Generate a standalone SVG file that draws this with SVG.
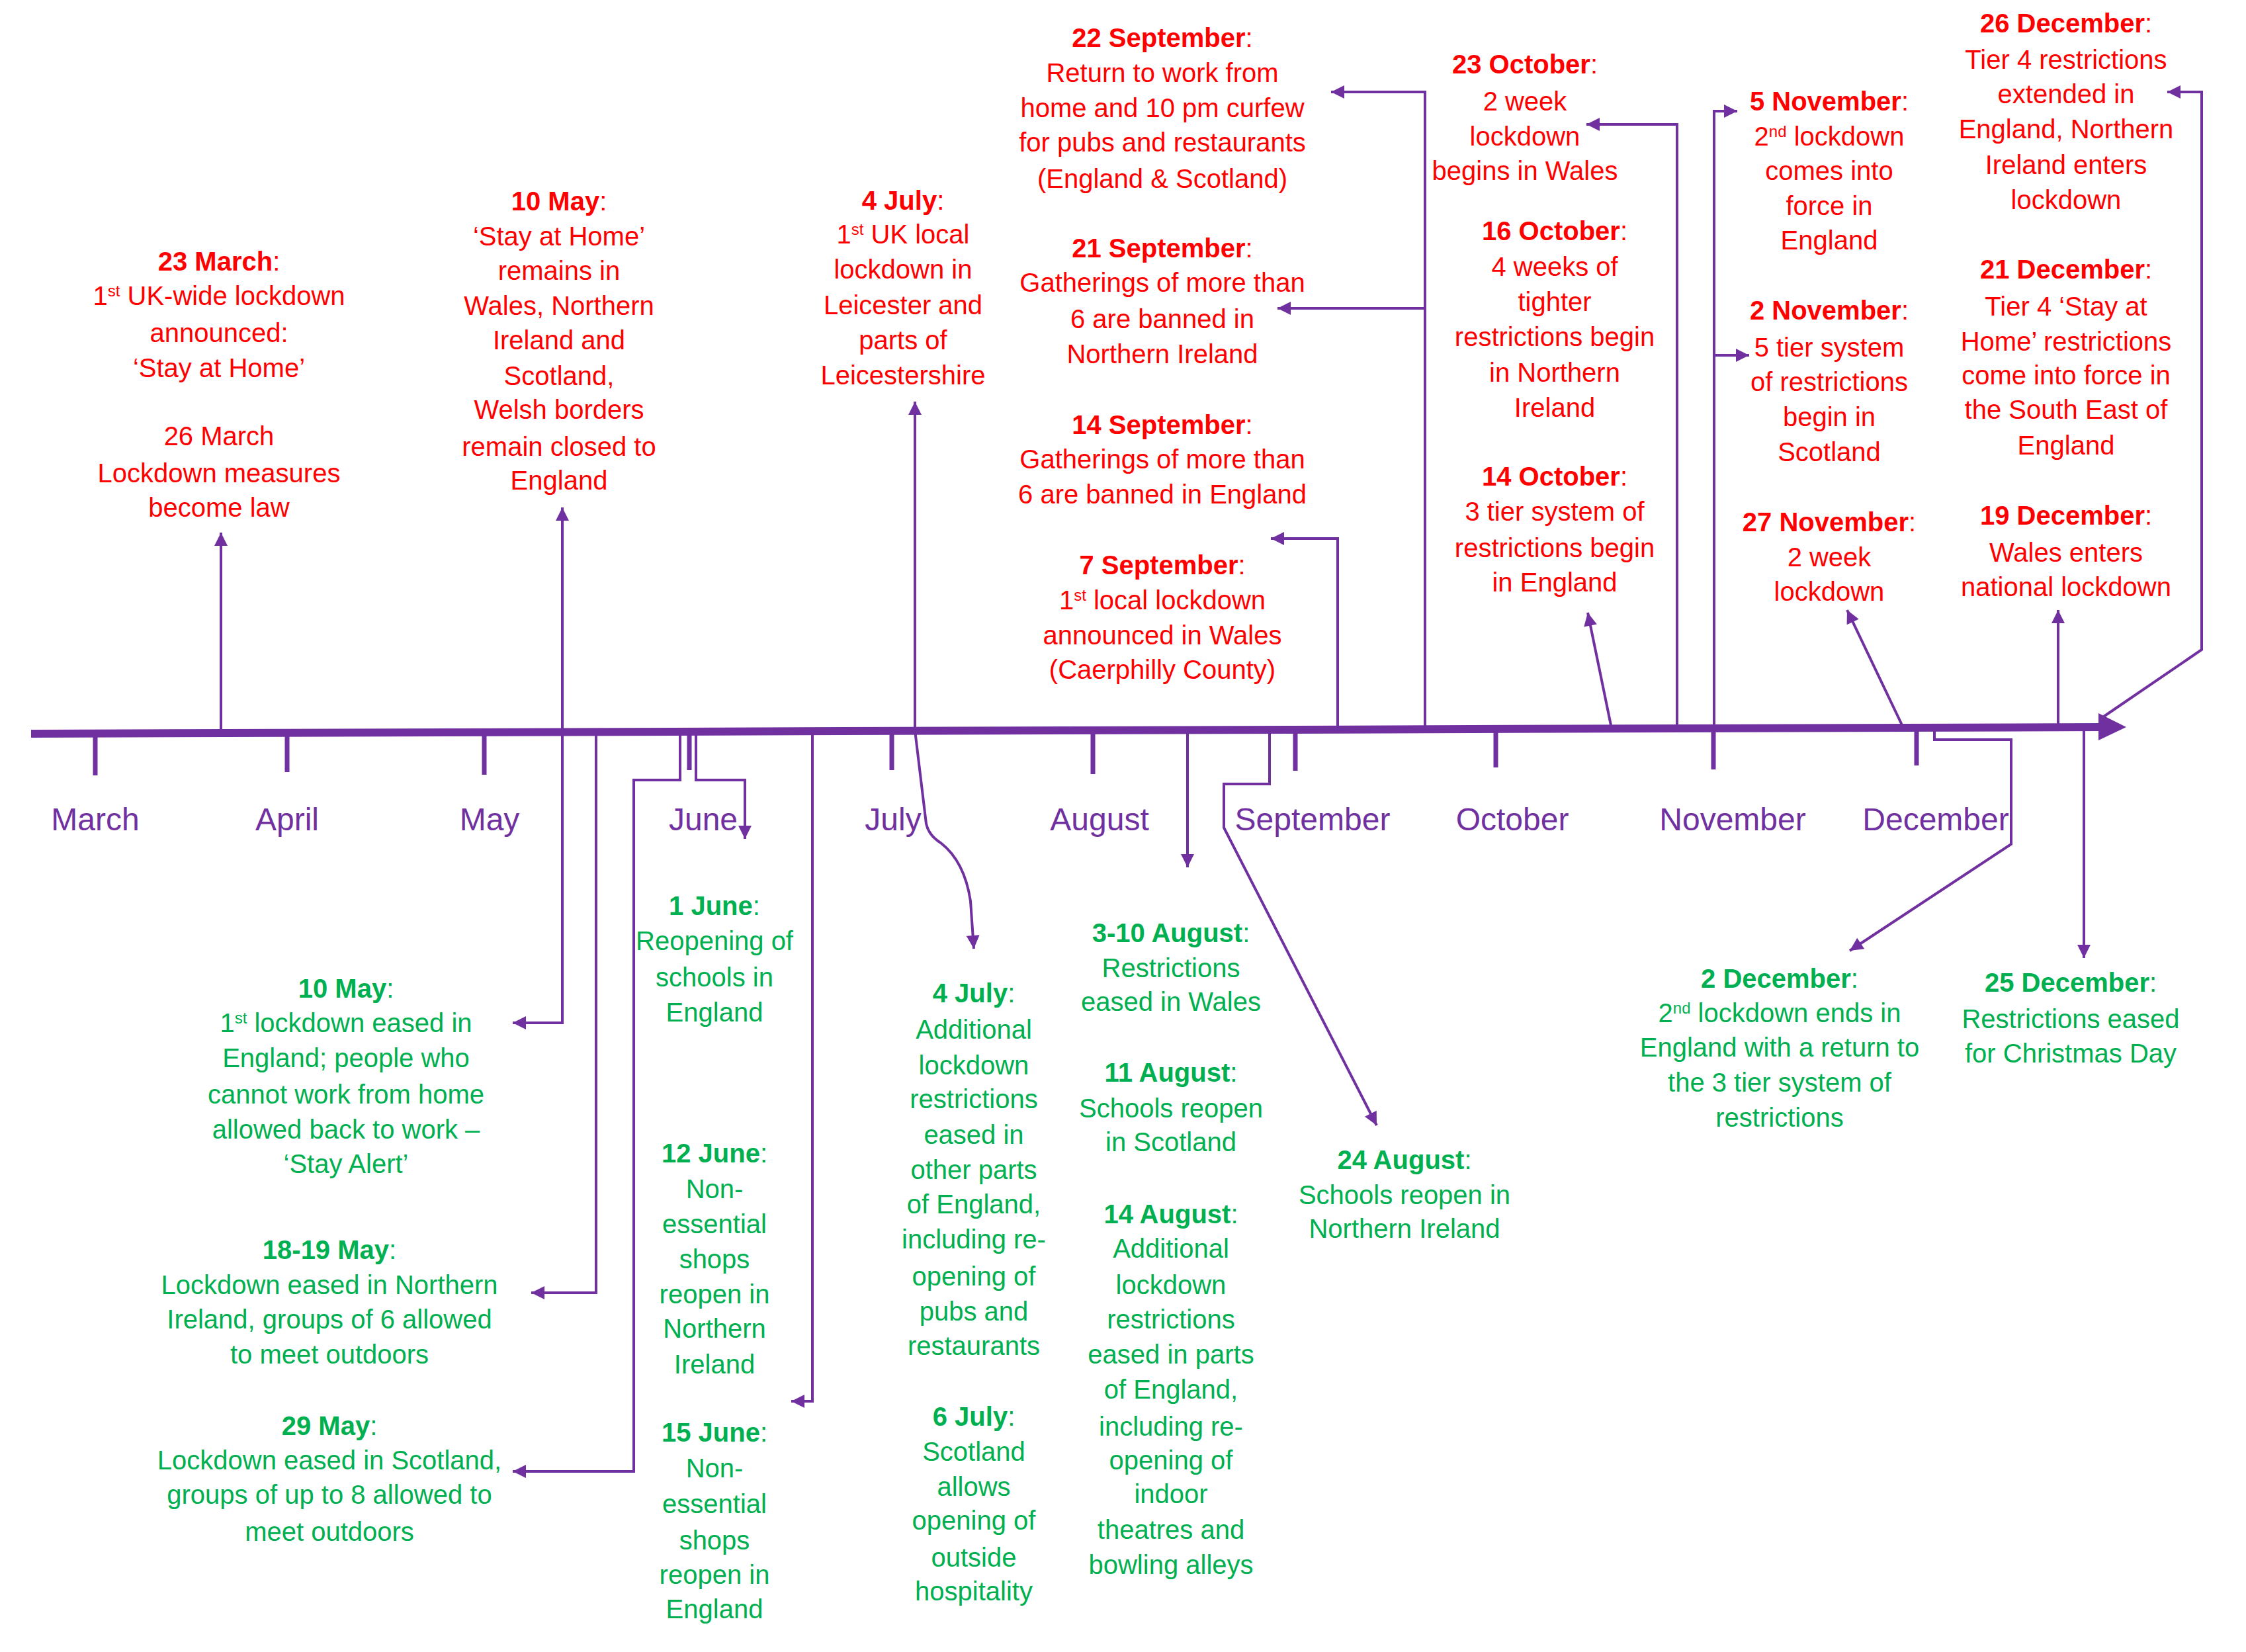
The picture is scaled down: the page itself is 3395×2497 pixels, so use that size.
<svg xmlns="http://www.w3.org/2000/svg" width="3395" height="2497" viewBox="0 0 3395 2497">
<style>
text{font-family:"Liberation Sans",Arial,sans-serif;font-size:40px;text-anchor:middle}
.r{fill:#ff0000}
.g{fill:#00b050}
.m{fill:#7030a0;font-size:48px}
.b{font-weight:bold}
.c{stroke:#7030a0;stroke-width:4;fill:none;marker-end:url(#ah)}
.t{stroke:#7030a0;stroke-width:7;fill:none}
</style>
<defs>
<marker id="ah" viewBox="0 0 10 10" refX="10" refY="5" orient="auto" markerUnits="userSpaceOnUse" markerWidth="24" markerHeight="20"><path d="M0,0 L10,5 L0,10 z" fill="#7030a0"/></marker>
</defs>
<rect width="3395" height="2497" fill="#ffffff"/>
<g id="axis">
<path d="M47,1109 L3178,1099" stroke="#7030a0" stroke-width="12" fill="none"/>
<polygon points="3172,1078 3214,1099 3172,1119" fill="#7030a0"/>
<path class="t" d="M144,1108 V1172 M434,1107 V1167 M732,1106 V1171 M1042,1105 V1164 M1348,1104 V1164 M1652,1103 V1170 M1958,1102 V1165 M2261,1101 V1160 M2590,1100 V1163 M2897,1099 V1157"/>
<text class="m" x="144" y="1255">March</text>
<text class="m" x="434" y="1255">April</text>
<text class="m" x="740" y="1255">May</text>
<text class="m" x="1063" y="1255">June</text>
<text class="m" x="1350" y="1255">July</text>
<text class="m" x="1662" y="1255">August</text>
<text class="m" x="1984" y="1255">September</text>
<text class="m" x="2286" y="1255">October</text>
<text class="m" x="2619" y="1255">November</text>
<text class="m" x="2926" y="1255">December</text>
</g>
<g id="connectors">
<path class="c" d="M334,1107 V805"/>
<path class="c" d="M850,1106 V767"/>
<path class="c" d="M850,1106 V1546 H775"/>
<path class="c" d="M901,1106 V1954 H803"/>
<path class="c" d="M1028,1105 V1179 H958 V2224 H775"/>
<path class="c" d="M1052,1105 V1179 H1126 V1268"/>
<path class="c" d="M1228,1105 V2118 H1196"/>
<path class="c" d="M1383,1104 V607"/>
<path class="c" d="M1383,1104 L1400,1245 Q1404,1263 1422,1274 Q1458,1302 1467,1362 L1472,1434"/>
<path class="c" d="M1795,1103 V1311"/>
<path class="c" d="M1919,1102 V1185 H1850 V1251 L2081,1701"/>
<path class="c" d="M2022,1102 V814 H1921"/>
<path class="c" d="M2154,1102 V139 H2012"/>
<path class="c" d="M2154,466 H1931"/>
<path class="c" d="M2436,1101 L2400,926"/>
<path class="c" d="M2535,1101 V188 H2398"/>
<path class="c" d="M2591,1100 V168 H2626"/>
<path class="c" d="M2591,537 H2644"/>
<path class="c" d="M2877,1100 L2792,922"/>
<path class="c" d="M3111,1099 V922"/>
<path class="c" d="M3180,1083 L3328,982 V139 H3276"/>
<path class="c" d="M2924,1100 V1118 H3040 V1276 L2796,1437"/>
<path class="c" d="M3150,1099 V1448"/>
</g>
<g id="n-23march" class="r">
<text x="331" y="409"><tspan class="b">23 March</tspan>:</text>
<text x="331" y="461">1<tspan font-size="24" baseline-shift="super">st</tspan> UK-wide lockdown</text>
<text x="331" y="517">announced:</text>
<text x="331" y="570">‘Stay at Home’</text>
<text x="331" y="673">26 March</text>
<text x="331" y="729">Lockdown measures</text>
<text x="331" y="781">become law</text>
</g>
<g id="n-10may-red" class="r">
<text x="845" y="318"><tspan class="b">10 May</tspan>:</text>
<text x="845" y="371">‘Stay at Home’</text>
<text x="845" y="423">remains in</text>
<text x="845" y="476">Wales, Northern</text>
<text x="845" y="528">Ireland and</text>
<text x="845" y="582">Scotland,</text>
<text x="845" y="633">Welsh borders</text>
<text x="845" y="689">remain closed to</text>
<text x="845" y="740">England</text>
</g>
<g id="n-4july-red" class="r">
<text x="1365" y="317"><tspan class="b">4 July</tspan>:</text>
<text x="1365" y="368">1<tspan font-size="24" baseline-shift="super">st</tspan> UK local</text>
<text x="1365" y="421">lockdown in</text>
<text x="1365" y="475">Leicester and</text>
<text x="1365" y="528">parts of</text>
<text x="1365" y="581">Leicestershire</text>
</g>
<g id="n-22sep" class="r">
<text x="1757" y="71"><tspan class="b">22 September</tspan>:</text>
<text x="1757" y="124">Return to work from</text>
<text x="1757" y="177">home and 10 pm curfew</text>
<text x="1757" y="229">for pubs and restaurants</text>
<text x="1757" y="284">(England &amp; Scotland)</text>
</g>
<g id="n-21sep" class="r">
<text x="1757" y="389"><tspan class="b">21 September</tspan>:</text>
<text x="1757" y="441">Gatherings of more than</text>
<text x="1757" y="496">6 are banned in</text>
<text x="1757" y="549">Northern Ireland</text>
</g>
<g id="n-14sep" class="r">
<text x="1757" y="656"><tspan class="b">14 September</tspan>:</text>
<text x="1757" y="708">Gatherings of more than</text>
<text x="1757" y="761">6 are banned in England</text>
</g>
<g id="n-7sep" class="r">
<text x="1757" y="868"><tspan class="b">7 September</tspan>:</text>
<text x="1757" y="921">1<tspan font-size="24" baseline-shift="super">st</tspan> local lockdown</text>
<text x="1757" y="974">announced in Wales</text>
<text x="1757" y="1026">(Caerphilly County)</text>
</g>
<g id="n-23oct" class="r">
<text x="2305" y="111"><tspan class="b">23 October</tspan>:</text>
<text x="2305" y="167">2 week</text>
<text x="2305" y="220">lockdown</text>
<text x="2305" y="272">begins in Wales</text>
</g>
<g id="n-16oct" class="r">
<text x="2350" y="363"><tspan class="b">16 October</tspan>:</text>
<text x="2350" y="417">4 weeks of</text>
<text x="2350" y="470">tighter</text>
<text x="2350" y="523">restrictions begin</text>
<text x="2350" y="577">in Northern</text>
<text x="2350" y="630">Ireland</text>
</g>
<g id="n-14oct" class="r">
<text x="2350" y="734"><tspan class="b">14 October</tspan>:</text>
<text x="2350" y="787">3 tier system of</text>
<text x="2350" y="842">restrictions begin</text>
<text x="2350" y="894">in England</text>
</g>
<g id="n-5nov" class="r">
<text x="2765" y="167"><tspan class="b">5 November</tspan>:</text>
<text x="2765" y="220">2<tspan font-size="24" baseline-shift="super">nd</tspan> lockdown</text>
<text x="2765" y="272">comes into</text>
<text x="2765" y="325">force in</text>
<text x="2765" y="377">England</text>
</g>
<g id="n-2nov" class="r">
<text x="2765" y="483"><tspan class="b">2 November</tspan>:</text>
<text x="2765" y="539">5 tier system</text>
<text x="2765" y="591">of restrictions</text>
<text x="2765" y="644">begin in</text>
<text x="2765" y="697">Scotland</text>
</g>
<g id="n-27nov" class="r">
<text x="2765" y="803"><tspan class="b">27 November</tspan>:</text>
<text x="2765" y="856">2 week</text>
<text x="2765" y="908">lockdown</text>
</g>
<g id="n-26dec" class="r">
<text x="3123" y="49"><tspan class="b">26 December</tspan>:</text>
<text x="3123" y="104">Tier 4 restrictions</text>
<text x="3123" y="156">extended in</text>
<text x="3123" y="209">England, Northern</text>
<text x="3123" y="263">Ireland enters</text>
<text x="3123" y="316">lockdown</text>
</g>
<g id="n-21dec" class="r">
<text x="3123" y="421"><tspan class="b">21 December</tspan>:</text>
<text x="3123" y="477">Tier 4 ‘Stay at</text>
<text x="3123" y="530">Home’ restrictions</text>
<text x="3123" y="581">come into force in</text>
<text x="3123" y="633">the South East of</text>
<text x="3123" y="687">England</text>
</g>
<g id="n-19dec" class="r">
<text x="3123" y="793"><tspan class="b">19 December</tspan>:</text>
<text x="3123" y="849">Wales enters</text>
<text x="3123" y="901">national lockdown</text>
</g>
<g id="n-10may-green" class="g">
<text x="523" y="1508"><tspan class="b">10 May</tspan>:</text>
<text x="523" y="1560">1<tspan font-size="24" baseline-shift="super">st</tspan> lockdown eased in</text>
<text x="523" y="1613">England; people who</text>
<text x="523" y="1668">cannot work from home</text>
<text x="523" y="1721">allowed back to work –</text>
<text x="523" y="1773">‘Stay Alert’</text>
</g>
<g id="n-1819may" class="g">
<text x="498" y="1903"><tspan class="b">18-19 May</tspan>:</text>
<text x="498" y="1956">Lockdown eased in Northern</text>
<text x="498" y="2008">Ireland, groups of 6 allowed</text>
<text x="498" y="2061">to meet outdoors</text>
</g>
<g id="n-29may" class="g">
<text x="498" y="2169"><tspan class="b">29 May</tspan>:</text>
<text x="498" y="2221">Lockdown eased in Scotland,</text>
<text x="498" y="2273">groups of up to 8 allowed to</text>
<text x="498" y="2329">meet outdoors</text>
</g>
<g id="n-1june" class="g">
<text x="1080" y="1383"><tspan class="b">1 June</tspan>:</text>
<text x="1080" y="1436">Reopening of</text>
<text x="1080" y="1491">schools in</text>
<text x="1080" y="1544">England</text>
</g>
<g id="n-12june" class="g">
<text x="1080" y="1757"><tspan class="b">12 June</tspan>:</text>
<text x="1080" y="1811">Non-</text>
<text x="1080" y="1864">essential</text>
<text x="1080" y="1917">shops</text>
<text x="1080" y="1970">reopen in</text>
<text x="1080" y="2022">Northern</text>
<text x="1080" y="2076">Ireland</text>
</g>
<g id="n-15june" class="g">
<text x="1080" y="2179"><tspan class="b">15 June</tspan>:</text>
<text x="1080" y="2233">Non-</text>
<text x="1080" y="2287">essential</text>
<text x="1080" y="2342">shops</text>
<text x="1080" y="2394">reopen in</text>
<text x="1080" y="2446">England</text>
</g>
<g id="n-4july-green" class="g">
<text x="1472" y="1515"><tspan class="b">4 July</tspan>:</text>
<text x="1472" y="1570">Additional</text>
<text x="1472" y="1624">lockdown</text>
<text x="1472" y="1675">restrictions</text>
<text x="1472" y="1729">eased in</text>
<text x="1472" y="1782">other parts</text>
<text x="1472" y="1834">of England,</text>
<text x="1472" y="1887">including re-</text>
<text x="1472" y="1943">opening of</text>
<text x="1472" y="1996">pubs and</text>
<text x="1472" y="2048">restaurants</text>
</g>
<g id="n-6july" class="g">
<text x="1472" y="2155"><tspan class="b">6 July</tspan>:</text>
<text x="1472" y="2208">Scotland</text>
<text x="1472" y="2261">allows</text>
<text x="1472" y="2312">opening of</text>
<text x="1472" y="2368">outside</text>
<text x="1472" y="2419">hospitality</text>
</g>
<g id="n-310aug" class="g">
<text x="1770" y="1424"><tspan class="b">3-10 August</tspan>:</text>
<text x="1770" y="1477">Restrictions</text>
<text x="1770" y="1528">eased in Wales</text>
</g>
<g id="n-11aug" class="g">
<text x="1770" y="1635"><tspan class="b">11 August</tspan>:</text>
<text x="1770" y="1689">Schools reopen</text>
<text x="1770" y="1740">in Scotland</text>
</g>
<g id="n-14aug" class="g">
<text x="1770" y="1849"><tspan class="b">14 August</tspan>:</text>
<text x="1770" y="1901">Additional</text>
<text x="1770" y="1956">lockdown</text>
<text x="1770" y="2008">restrictions</text>
<text x="1770" y="2061">eased in parts</text>
<text x="1770" y="2114">of England,</text>
<text x="1770" y="2170">including re-</text>
<text x="1770" y="2221">opening of</text>
<text x="1770" y="2272">indoor</text>
<text x="1770" y="2326">theatres and</text>
<text x="1770" y="2379">bowling alleys</text>
</g>
<g id="n-24aug" class="g">
<text x="2123" y="1767"><tspan class="b">24 August</tspan>:</text>
<text x="2123" y="1820">Schools reopen in</text>
<text x="2123" y="1871">Northern Ireland</text>
</g>
<g id="n-2dec" class="g">
<text x="2690" y="1493"><tspan class="b">2 December</tspan>:</text>
<text x="2690" y="1545">2<tspan font-size="24" baseline-shift="super">nd</tspan> lockdown ends in</text>
<text x="2690" y="1597">England with a return to</text>
<text x="2690" y="1650">the 3 tier system of</text>
<text x="2690" y="1703">restrictions</text>
</g>
<g id="n-25dec" class="g">
<text x="3130" y="1499"><tspan class="b">25 December</tspan>:</text>
<text x="3130" y="1554">Restrictions eased</text>
<text x="3130" y="1606">for Christmas Day</text>
</g>
</svg>
